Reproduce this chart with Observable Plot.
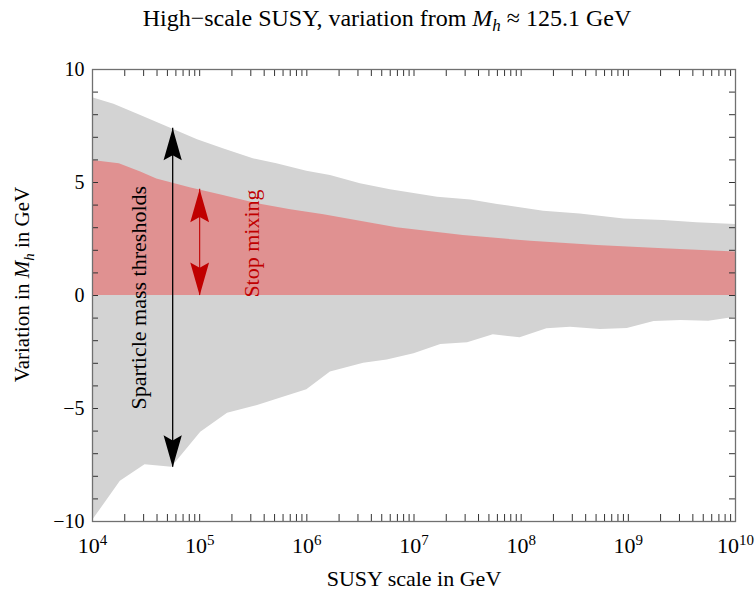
<!DOCTYPE html>
<html>
<head>
<meta charset="utf-8">
<script src="https://cdn.jsdelivr.net/npm/d3@7"></script>
<script src="https://cdn.jsdelivr.net/npm/@observablehq/plot@0.6"></script>
<style>
  body { margin: 0; background: #fff; }
  #chart svg { display: block; }
</style>
</head>
<body>
<div id="chart"></div>
<script>
// Band edges: log10 of the SUSY scale in GeV, and the shift of M_h in GeV.
const upperExp = [4.0, 4.2, 4.45, 4.74, 4.98, 5.22, 5.5, 5.72, 6.0, 6.22, 6.5, 6.78, 7.22, 7.53, 7.78, 8.21, 8.55, 8.96, 9.33, 9.64, 10.0];
const upperVal = [8.75, 8.46, 7.96, 7.38, 6.89, 6.49, 6.05, 5.83, 5.5, 5.31, 4.94, 4.68, 4.35, 4.23, 4.03, 3.73, 3.61, 3.39, 3.32, 3.22, 3.14];

const lowerExp = [4.0, 4.26, 4.49, 4.74, 5.01, 5.26, 5.54, 5.78, 6.0, 6.22, 6.53, 6.75, 7.0, 7.25, 7.5, 7.74, 7.99, 8.24, 8.46, 8.74, 8.99, 9.24, 9.49, 9.75, 10.0];
const lowerVal = [-9.96, -8.22, -7.49, -7.6, -6.05, -5.21, -4.87, -4.5, -4.17, -3.39, -3.0, -2.85, -2.58, -2.17, -2.09, -1.74, -1.87, -1.47, -1.4, -1.5, -1.46, -1.15, -1.11, -1.14, -0.96];

// Stop-mixing band (drawn from zero up to this edge)
const stopExp = [4.0, 4.25, 4.45, 4.6, 4.91, 5.22, 5.54, 5.85, 6.16, 6.84, 7.46, 8.09, 8.71, 9.33, 10.0];
const stopVal = [5.97, 5.83, 5.46, 5.16, 4.77, 4.42, 4.06, 3.79, 3.57, 3.0, 2.65, 2.4, 2.21, 2.07, 1.92];

// Double arrows: position on the scale axis and the span in GeV
const thresholdArrow = {scale: 5.6e4, lo: -7.6, hi: 7.4};
const mixingArrow = {scale: 1.0e5, lo: 0, hi: 4.7};

// Annotation texts and their anchors
const annotations = [
  {text: "Sparticle mass thresholds", scale: 10 ** 4.43, value: -0.1, color: "#000"},
  {text: "Stop mixing", scale: 10 ** 5.49, value: 2.3, color: "#c00000"}
];

// Axis ticks and labels
const xTickExp = [4, 5, 6, 7, 8, 9, 10];
const yTickLabels = [-10, -5, 0, 5, 10];
const yMinorTicks = d3.range(-10, 11, 1);

const titleText = "High−scale SUSY, variation from M_h ≈ 125.1 GeV";
const xLabel = "SUSY scale in GeV";
const yLabel = "Variation in M_h in GeV";

const toRows = (exps, vals) => exps.map((e, i) => ({x: 10 ** e, v: vals[i]}));
const upper = toRows(upperExp, upperVal);
const lower = toRows(lowerExp, lowerVal);
const stop = toRows(stopExp, stopVal);

// minor ticks 2..10 within each decade
const xMinorTicks = [];
for (let e = 4; e < 10; e++) for (let k = 2; k <= 10; k++) xMinorTicks.push(k * 10 ** e);

// filled arrowhead, tip at the anchor point; r sets the head length
function headSymbol(dir) {
  return {
    draw(context, size) {
      const s = Math.sqrt(size / Math.PI) * dir;
      const w = Math.abs(s) * 0.285;
      context.moveTo(0, 0);
      context.lineTo(-w, s);
      context.lineTo(0, s * 0.84);
      context.lineTo(w, s);
      context.closePath();
    }
  };
}
const upHead = headSymbol(1);
const downHead = headSymbol(-1);

const W = 755, H = 591;
const mL = 92, mR = 20, mT = 69, mB = 70;
const frameH = H - mT - mB, frameW = W - mL - mR;
const tickLen = 7;

const fmtY = d => d < 0 ? "−" + (-d) : String(d);

const chart = Plot.plot({
  width: W,
  height: H,
  marginLeft: mL,
  marginRight: mR,
  marginTop: mT,
  marginBottom: mB,
  style: {fontFamily: "'Liberation Serif', 'DejaVu Serif', serif", fontSize: "20px", background: "#fff", color: "#000"},
  x: {type: "log", domain: [1e4, 1e10], axis: null},
  y: {domain: [-10, 10], axis: null},
  marks: [
    Plot.areaY(upper, {x: "x", y1: 0, y2: "v", fill: "#d3d3d3"}),
    Plot.areaY(lower, {x: "x", y1: "v", y2: 0, fill: "#d3d3d3"}),
    Plot.areaY(stop, {x: "x", y1: 0, y2: "v", fill: "#e09191"}),

    // threshold arrow
    Plot.ruleX([thresholdArrow], {x: "scale", y1: "lo", y2: "hi", stroke: "#000", strokeWidth: 1.3}),
    Plot.dot([thresholdArrow], {x: "scale", y: "hi", symbol: upHead, r: 32, fill: "#000", stroke: "none"}),
    Plot.dot([thresholdArrow], {x: "scale", y: "lo", symbol: downHead, r: 32, fill: "#000", stroke: "none"}),

    // stop-mixing arrow
    Plot.ruleX([mixingArrow], {x: "scale", y1: "lo", y2: "hi", stroke: "#c00000", strokeWidth: 1.1}),
    Plot.dot([mixingArrow], {x: "scale", y: "hi", symbol: upHead, r: 33, fill: "#c00000", stroke: "none"}),
    Plot.dot([mixingArrow], {x: "scale", y: "lo", symbol: downHead, r: 33, fill: "#c00000", stroke: "none"}),

    Plot.text(annotations, {x: "scale", y: "value", text: "text", fill: "color", rotate: -90, fontSize: 22, textAnchor: "middle", lineAnchor: "middle"}),

    // frame ticks (inside)
    Plot.tickX(xMinorTicks, {x: d => d, stroke: "#333", strokeWidth: 1, insetTop: frameH - tickLen}),
    Plot.tickX(xMinorTicks, {x: d => d, stroke: "#333", strokeWidth: 1, insetBottom: frameH - tickLen}),
    Plot.tickY(yMinorTicks, {y: d => d, stroke: "#333", strokeWidth: 1, insetRight: frameW - 6}),
    Plot.tickY(yMinorTicks, {y: d => d, stroke: "#333", strokeWidth: 1, insetLeft: frameW - 6}),
    Plot.frame({stroke: "#707070", strokeWidth: 1.3}),

    // tick labels
    Plot.text(xTickExp, {x: e => 10 ** e, text: e => `10^${e}`, frameAnchor: "bottom", dy: 31, lineAnchor: "bottom", fontSize: 22}),
    Plot.text(yTickLabels, {y: d => d, text: fmtY, frameAnchor: "left", dx: -8, textAnchor: "end", lineAnchor: "middle", fontSize: 20}),

    // axis titles and chart title
    Plot.text([xLabel], {text: d => d, frameAnchor: "bottom", dy: 64, textAnchor: "middle", lineAnchor: "bottom", fontSize: 22}),
    Plot.text([yLabel], {text: d => d, frameAnchor: "left", dx: -70, dy: -11, rotate: -90, textAnchor: "middle", lineAnchor: "middle", fontSize: 21}),
    Plot.text([titleText], {text: d => d, frameAnchor: "top", dx: -27, dy: -44, textAnchor: "middle", lineAnchor: "bottom", fontSize: 24})
  ]
});

document.getElementById("chart").appendChild(chart);

// Rich text: italic M with subscript h, and superscript exponents.
function rebuild(el, parts) {
  const t = d3.select(el);
  t.text(null);
  for (const p of parts) {
    const ts = t.append("tspan").text(p.t);
    if (p.italic) ts.attr("font-style", "italic");
    if (p.size) ts.attr("font-size", p.size);
    if (p.dy) ts.attr("dy", p.dy);
  }
}
function massParts(text, subSize) {
  const [before, after] = text.split("M_h");
  return [
    {t: before},
    {t: "M", italic: true},
    {t: "h", italic: true, size: subSize, dy: 5},
    {t: after, dy: -5}
  ];
}
d3.select(chart).selectAll("text").each(function () {
  const s = this.textContent;
  const m = /^10\^(\d+)$/.exec(s);
  if (m) {
    rebuild(this, [{t: "10"}, {t: m[1], size: 15, dy: -8}]);
  } else if (s === yLabel) {
    rebuild(this, massParts(s, 15));
  } else if (s === titleText) {
    rebuild(this, massParts(s, 17));
  }
});
</script>
</body>
</html>
